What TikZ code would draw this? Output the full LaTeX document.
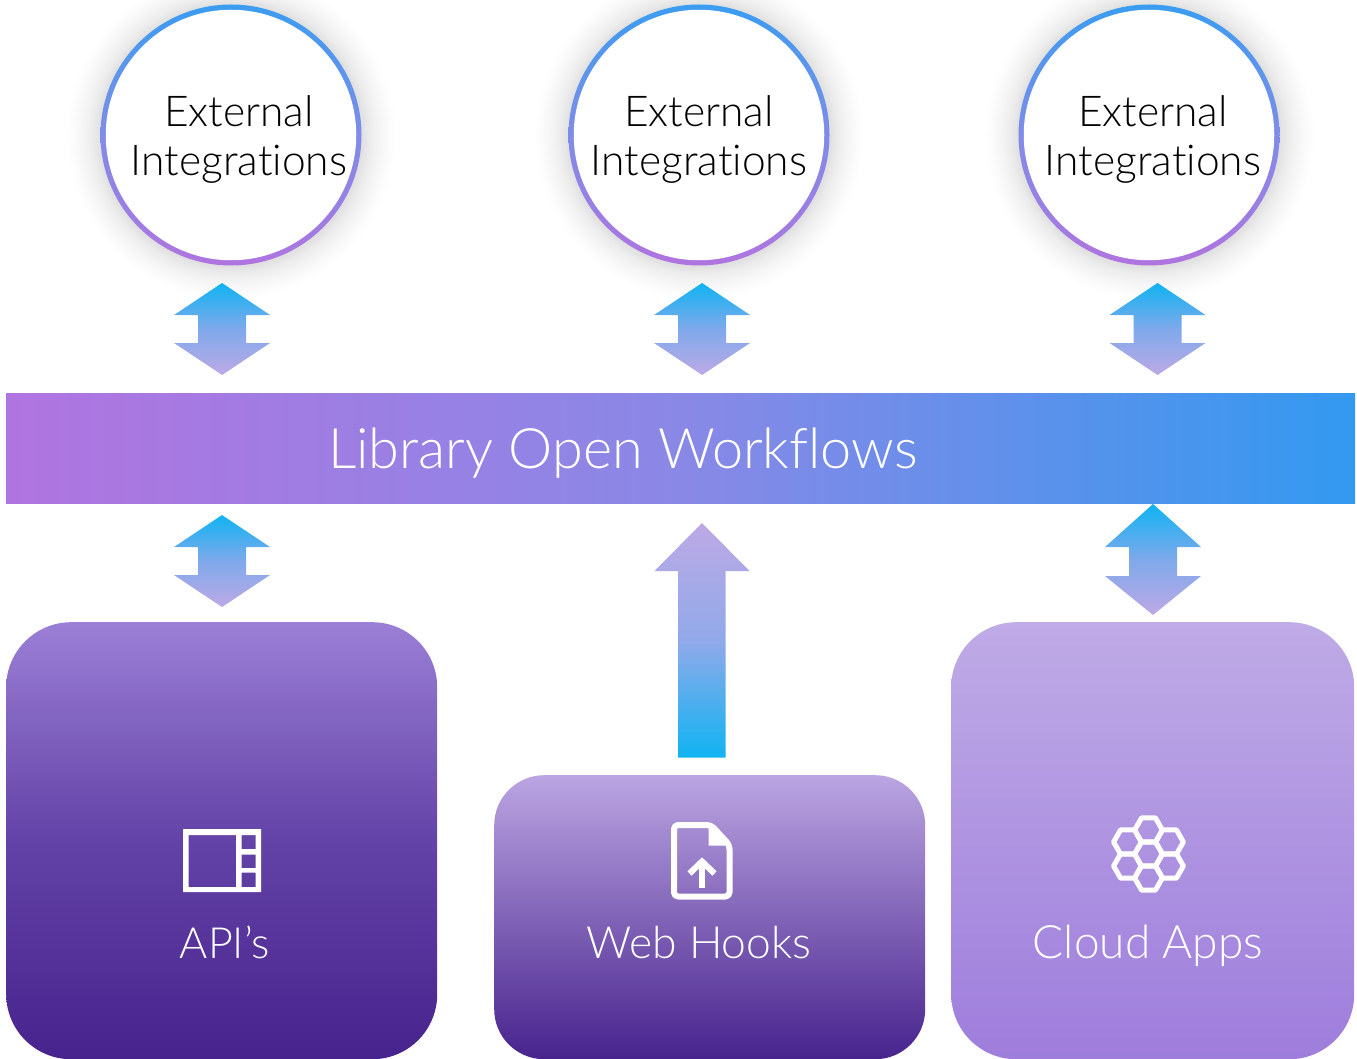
\documentclass[tikz,border=0pt]{standalone}
\usepackage{fontspec}
\setmainfont{Lato}[UprightFont={* Light},Ligatures=NoCommon]
\definecolor{ringtop}{HTML}{3A9DF1}
\definecolor{ringbot}{HTML}{B074E0}
\definecolor{ringmid}{HTML}{7F8CE8}
\definecolor{arrtop}{HTML}{10B3F2}
\definecolor{arrbot}{HTML}{BDA9E5}
\definecolor{arrmid}{HTML}{7FA9EB}
\definecolor{barright}{HTML}{3399F0}
\definecolor{barmid}{HTML}{8A88E6}
\definecolor{apitop}{HTML}{9B7FD6}
\definecolor{apimid}{HTML}{6343A7}
\definecolor{hooktop}{HTML}{BBA5E2}
\definecolor{deep}{HTML}{47238D}
\definecolor{cloudtop}{HTML}{BFABE6}
\definecolor{cloudbot}{HTML}{9E7DDC}
\pgfdeclareradialshading{halo}{\pgfpoint{0bp}{0bp}}{
  color(0bp)=(black!12); color(19.9bp)=(black!12); color(21bp)=(black!7.5);
  color(22.5bp)=(black!4); color(24bp)=(black!1.3); color(25bp)=(white); color(50bp)=(white)}
\tikzset{
  halostyle/.style={circle,inner sep=0pt,minimum size=330pt,shading=halo},
  ringstyle/.style={circle,inner sep=0pt,minimum size=261pt,top color=ringtop,bottom color=ringbot,middle color=ringmid},
  whitestyle/.style={circle,inner sep=0pt,minimum size=250.5pt,fill=white},
  circletext/.style={align=center,font=\fontsize{42.5}{49}\selectfont,text=black,inner sep=0pt},
  boxtext/.style={text=white,inner sep=0pt,anchor=base},
  cardstyle/.style={rectangle,anchor=north west,inner sep=0pt,draw=none},
  iconline/.style={draw=white,line join=round},
  blockarrow/.style={top color=arrtop,bottom color=arrbot,middle color=arrmid,draw=none},
}
\newcommand{\dblarrow}[5]{% cx, top, upper base, lower base, bottom
  \shade[blockarrow] (#1,#2) -- (#1+48,#3) -- (#1+24,#3) -- (#1+24,#4) -- (#1+48,#4)
    -- (#1,#5) -- (#1-48,#4) -- (#1-24,#4) -- (#1-24,#3) -- (#1-48,#3) -- cycle;
}
\newcommand{\hexcell}[2]{%
  \draw[iconline,line width=5pt] (#1-13.9,#2) -- (#1-6.95,#2-12.1) -- (#1+6.95,#2-12.1)
    -- (#1+13.9,#2) -- (#1+6.95,#2+12.1) -- (#1-6.95,#2+12.1) -- cycle;
}
\begin{document}
\begin{tikzpicture}[x=1pt,y=-1pt]
\useasboundingbox (0,0) rectangle (1357,1059);
% halos and circles
\foreach \n/\cx/\tx in {a/231/239,b/699/699,c/1149/1153}{
  \node[halostyle] (halo\n) at (\cx,135) {};
}
\foreach \n/\cx/\tx in {a/231/239,b/699/699,c/1149/1153}{
  \node[ringstyle] (ring\n) at (\cx,135) {};
  \node[whitestyle] (disc\n) at (ring\n.center) {};
  \node[circletext] (text\n) at (\tx,139) {External\\Integrations};
}
% double arrows
\dblarrow{222}{283}{315}{343}{375}
\dblarrow{702}{283}{315}{343}{375}
\dblarrow{1157.5}{283}{315}{343}{375}
\dblarrow{222}{515}{547}{575}{607}
\dblarrow{1153}{504}{547}{576}{615}
% single arrow
\shade[top color=arrbot,bottom color=arrtop,middle color=arrmid!70!arrbot,draw=none]
  (702,523) -- (749.5,571) -- (725.5,571) -- (725.5,757.5) -- (678,757.5) -- (678,571) -- (654.5,571) -- cycle;
% bar
\node[rectangle,anchor=north west,inner sep=0pt,minimum width=1349pt,minimum height=110.5pt,
      left color=ringbot,right color=barright,middle color=barmid] (bar) at (6,393) {};
\node[text=white,font=\fontsize{55.8}{60}\selectfont,inner sep=0pt,anchor=base] (bartext) at (623,468) {Library Open Workflows};
% cards
\node[cardstyle,minimum width=431pt,minimum height=437pt,rounded corners=65pt,
      top color=apitop,bottom color=deep,middle color=apimid] (api) at (6,622) {};
\node[cardstyle,minimum width=431pt,minimum height=284pt,rounded corners=50pt,
      top color=hooktop,bottom color=deep] (hook) at (494,775) {};
\node[cardstyle,minimum width=403pt,minimum height=437pt,rounded corners=65pt,
      top color=cloudtop,bottom color=cloudbot] (cloud) at (951,622) {};
\node[boxtext,font=\fontsize{43}{50}\selectfont] (apitext) at (225,958.5) {API’s};
\node[boxtext,font=\fontsize{44.4}{50}\selectfont] (hooktext) at (699,958.5) {Web Hooks};
\node[boxtext,font=\fontsize{46}{50}\selectfont] (cloudtext) at (1148,958.5) {Cloud Apps};
% API icon
\fill[white,even odd rule] (183,829) rectangle (261,892)
  (188.7,835) rectangle (236,887)
  (241.7,835) rectangle (255.5,849)
  (241.7,854.5) rectangle (255.5,868)
  (241.7,872.5) rectangle (255.5,887);
% file icon
\draw[iconline,line width=6pt,rounded corners=4pt] (674,825) -- (711,825) -- (729.5,845) -- (729.5,896.5) -- (674,896.5) -- cycle;
\fill[white] (708.5,825) -- (712,825) -- (730,844) -- (730,845.5) -- (708.5,845.5) -- cycle;
\fill[white] (699,863) rectangle (705,888);
\draw[iconline,line width=6pt,line join=miter] (689.5,873.5) -- (702,861.5) -- (714.5,873.5);
% hexagon icon
\hexcell{1148.5}{830}
\hexcell{1148.5}{854}
\hexcell{1148.5}{878}
\hexcell{1127.5}{842}
\hexcell{1169.5}{842}
\hexcell{1127.5}{866}
\hexcell{1169.5}{866}
\end{tikzpicture}
\end{document}
